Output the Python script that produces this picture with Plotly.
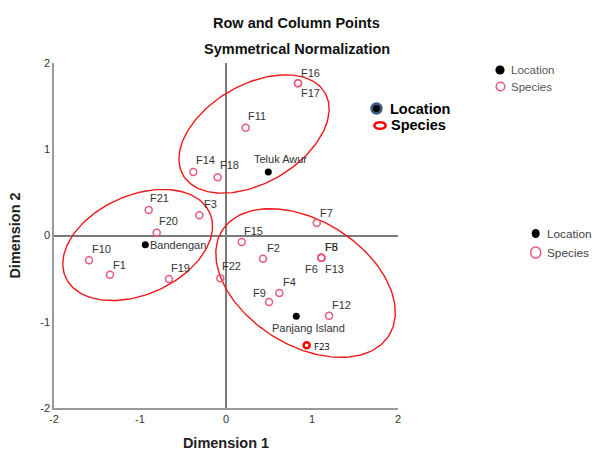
import math
import plotly.graph_objects as go

# ---------------- data ----------------
species_names = ["F1", "F2", "F3", "F4", "F5", "F6", "F7", "F8", "F9", "F10", "F11",
                 "F12", "F13", "F14", "F15", "F16", "F17", "F18", "F19", "F20", "F21", "F22"]
species_dim1 = [-1.349, 0.430, -0.310, 0.620, 1.108, 1.108, 1.055, 1.108, 0.500, -1.593, 0.229,
                1.198, 1.108, -0.380, 0.183, 0.837, 0.837, -0.097, -0.663, -0.806, -0.899, -0.066]
species_dim2 = [-0.454, -0.269, 0.234, -0.667, -0.257, -0.257, 0.145, -0.257, -0.771, -0.288, 1.250,
                -0.930, -0.257, 0.736, -0.075, 1.765, 1.765, 0.675, -0.504, 0.032, 0.296, -0.496]

location_names = ["Bandengan", "Teluk Awur", "Panjang Island"]
location_dim1 = [-0.938, 0.492, 0.817]
location_dim2 = [-0.107, 0.736, -0.937]

extra_names = ["F23"]
extra_dim1 = [0.938]
extra_dim2 = [-1.273]

axis_ticks = [-2, -1, 0, 1, 2]

# cluster ellipses (centre, semi-axes, rotation in degrees)
ell_cx = [0.326, -1.027, 0.925]
ell_cy = [1.177, -0.110, -0.551]
ell_a = [0.953, 0.918, 1.145]
ell_b = [0.570, 0.575, 0.722]
ell_rot = [30, 24, -32]

# ---------------- label offsets (pixels: dx right, dy up) ----------------
label_offsets = {
    "F1": (10, 10, "center"), "F2": (11, 11, "center"), "F3": (11, 11, "center"),
    "F4": (10, 11, "center"), "F5": (10, 11, "center"), "F6": (-10, -11, "center"),
    "F7": (10, 10, "center"), "F8": (10, 11, "center"), "F9": (-10, 9, "center"),
    "F10": (12, 11, "center"), "F11": (11, 12, "center"), "F12": (12, 11, "center"),
    "F13": (13, -11, "center"), "F14": (12, 12, "center"), "F15": (12, 11, "center"),
    "F16": (13, 10, "center"), "F17": (13, -10, "center"), "F18": (12, 12, "center"),
    "F19": (12, 11, "center"), "F20": (12, 12, "center"), "F21": (11, 12, "center"),
    "F22": (11, 12, "center"),
    "Bandengan": (3, 0, "left"), "Teluk Awur": (12, 13, "center"),
    "Panjang Island": (12, -12, "center"),
}

FONT = "Liberation Sans, Arial, sans-serif"
PINK = "#e65b7d"

fig = go.Figure()

# ellipses
for cx, cy, a, b, rot in zip(ell_cx, ell_cy, ell_a, ell_b, ell_rot):
    th = math.radians(rot)
    xs, ys = [], []
    for i in range(181):
        t = 2 * math.pi * i / 180
        ex, ey = a * math.cos(t), b * math.sin(t)
        xs.append(cx + ex * math.cos(th) - ey * math.sin(th))
        ys.append(cy + ex * math.sin(th) + ey * math.cos(th))
    fig.add_trace(go.Scatter(x=xs, y=ys, mode="lines", line=dict(color="#f01818", width=1.4),
                             hoverinfo="skip", showlegend=False))

fig.add_trace(go.Scatter(x=species_dim1, y=species_dim2, mode="markers", name="Species",
                         text=species_names,
                         marker=dict(symbol="circle-open", size=7, color=PINK, line=dict(width=1.5)),
                         showlegend=False))
fig.add_trace(go.Scatter(x=location_dim1, y=location_dim2, mode="markers", name="Location",
                         text=location_names,
                         marker=dict(symbol="circle", size=7, color="black"),
                         showlegend=False))
fig.add_trace(go.Scatter(x=extra_dim1, y=extra_dim2, mode="markers", name="F23",
                         text=extra_names,
                         marker=dict(symbol="circle-open", size=6, color="#ff0000", line=dict(width=2.6)),
                         showlegend=False))

annotations = []
for names, xs, ys in [(species_names, species_dim1, species_dim2),
                      (location_names, location_dim1, location_dim2)]:
    for n, x, y in zip(names, xs, ys):
        dx, dy, anc = label_offsets[n]
        annotations.append(dict(x=x, y=y, xref="x", yref="y", text=n, showarrow=False,
                                xanchor=anc, yanchor="middle", xshift=dx, yshift=dy,
                                font=dict(family=FONT, size=11, color="#333333")))
for n, x, y in zip(extra_names, extra_dim1, extra_dim2):
    annotations.append(dict(x=x, y=y, xref="x", yref="y", text=n, showarrow=False,
                            xanchor="left", yanchor="middle", xshift=5, yshift=-1,
                            font=dict(family="Open Sans, sans-serif", size=9.5, color="black")))

# pixel -> paper helpers (plot area 54..398 x 63..408)
def px(x):
    return (x - 54) / 344.0

def py(y):
    return (408 - y) / 345.0

# titles
annotations.append(dict(x=px(296.5), y=py(22.5), xref="paper", yref="paper",
                        yanchor="middle", xanchor="center", showarrow=False,
                        text="<b>Row and Column Points</b>",
                        font=dict(family=FONT, size=14.5, color="#111111")))
annotations.append(dict(x=px(296.5), y=py(49), xref="paper", yref="paper",
                        yanchor="middle", xanchor="center", showarrow=False,
                        text="<b>Symmetrical Normalization</b>",
                        font=dict(family=FONT, size=14.5, color="#111111")))

shapes = []

def circ(cx, cy, rx, ry, fill, line_color, lw):
    shapes.append(dict(type="circle", xref="paper", yref="paper",
                       x0=px(cx - rx), x1=px(cx + rx), y0=py(cy + ry), y1=py(cy - ry),
                       fillcolor=fill, line=dict(color=line_color, width=lw)))

def label(x, y, text, size, color, bold=False):
    annotations.append(dict(x=px(x), y=py(y), xref="paper", yref="paper", showarrow=False,
                            xanchor="left", yanchor="middle",
                            text=("<b>%s</b>" % text) if bold else text,
                            font=dict(family=FONT, size=size, color=color)))

# legend 1 (top right)
circ(500, 70, 4.6, 4.6, "black", "black", 0)
circ(500.5, 86.5, 4.3, 4.3, "white", PINK, 1.5)
label(509, 70, "Location", 11.5, "#555555")
label(509, 86.5, "Species", 11.5, "#555555")

# legend 2 (middle)
circ(376.5, 108.5, 6.2, 6.2, "#3d5b86", "#3d5b86", 0)
circ(376.5, 108.5, 3.6, 3.6, "black", "black", 0)
circ(380, 125.5, 5.6, 3.3, "white", "#ff0000", 2.6)
label(388, 108.5, "Location", 14.5, "black", bold=True)
label(389, 124.5, "Species", 14.5, "black", bold=True)

# legend 3 (right)
circ(535.7, 233.5, 4.0, 4.6, "black", "black", 0)
circ(535.7, 252.5, 5.0, 5.6, "white", PINK, 1.5)
label(545, 234, "Location", 11.8, "#444444")
label(545, 252.5, "Species", 11.8, "#444444")

axis_common = dict(range=[-2, 2], tickvals=axis_ticks, ticktext=[str(t) for t in axis_ticks],
                   showgrid=False, zeroline=True, zerolinecolor="#7a7a7a", zerolinewidth=1.5,
                   showline=True, linecolor="#9a9a9a", linewidth=1.6, ticks="",
                   tickfont=dict(family=FONT, size=11, color="#333333"), fixedrange=True)

fig.update_layout(
    width=593, height=451,
    margin=dict(l=54, r=195, t=63, b=43, autoexpand=False),
    paper_bgcolor="white", plot_bgcolor="white",
    xaxis=dict(**axis_common,
               title=dict(text="<b>Dimension 1</b>", standoff=14,
                          font=dict(family=FONT, size=14.5, color="#222222"))),
    yaxis=dict(**axis_common,
               title=dict(text="<b>Dimension 2</b>", standoff=16,
                          font=dict(family=FONT, size=14.5, color="#222222"))),
    annotations=annotations,
    shapes=shapes,
    showlegend=False,
)

fig.write_html("out.html", config={"displayModeBar": False},
               post_script="document.body.style.margin='0';document.body.style.overflow='hidden';")
